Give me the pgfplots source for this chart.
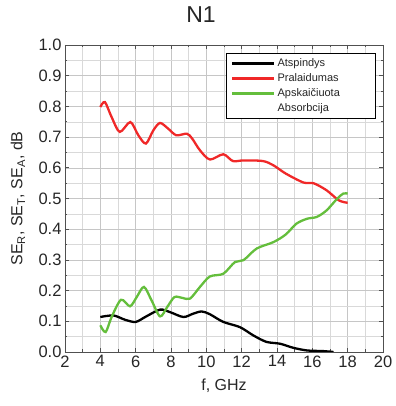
\documentclass[border=0pt]{standalone}
\usepackage{fontspec}
\setmainfont{Liberation Sans}
\usepackage{pgfplots}
\pgfplotsset{compat=1.18}
\definecolor{cred}{RGB}{240,40,40}
\definecolor{cgreen}{RGB}{100,190,60}
\definecolor{frame}{RGB}{80,80,80}
\newcommand{\legw}[1]{\makebox[92pt][l]{#1}}
\begin{document}
\begin{tikzpicture}
\path[draw=none] (-65pt,-54pt) rectangle (329pt,352pt);
\begin{axis}[
  at={(0pt,0pt)}, anchor=south west,
  scale only axis, width=318pt, height=307pt,
  xmin=2, xmax=20, ymin=0, ymax=1,
  xtick={2,4,...,20}, ytick={0,0.1,...,1.0},
  minor x tick num=1, minor y tick num=1,
  grid=both,
  major grid style={gray!45, line width=0.5pt},
  minor grid style={gray!30, line width=0.4pt},
  axis line style={frame, line width=0.8pt},
  tick style={frame, line width=0.6pt},
  tick align=inside, major tick length=4pt, minor tick length=2.5pt,
  /pgf/number format/assume math mode=true,
  yticklabel style={/pgf/number format/.cd, fixed, fixed zerofill, precision=1},
  ticklabel style={font=\fontsize{16.5}{18}\selectfont, text=black!85},
  xlabel={f, GHz}, ylabel={SE\textsubscript{R}, SE\textsubscript{T}, SE\textsubscript{A}, dB},
  label style={font=\fontsize{16}{18}\selectfont, text=black!85},
  xlabel style={at={([yshift=-34pt]axis description cs:0.5,0)}, anchor=center},
  ylabel style={at={([xshift=-47pt]axis description cs:0,0.5)}, anchor=center},
  title={N1}, title style={font=\fontsize{23}{25}\selectfont, text=black!85, at={([xshift=-23pt,yshift=24pt]axis description cs:0.5,1)}, anchor=center},
  legend style={at={(0.978,0.974)}, anchor=north east, font=\fontsize{11}{13}\selectfont,
    draw=black, line width=0.9pt, inner xsep=4pt, inner ysep=3pt, row sep=1.6pt,
    legend cell align=left, text=black!85},
  legend image post style={line width=2.8pt},
  legend image code/.code={\draw[#1] (0pt,0pt) -- (42pt,0pt);},
]
\addplot[black, line width=2.3pt, smooth, tension=0.5] coordinates {
(4.0,0.114)(4.74,0.119)(5.4,0.105)(6.0,0.098)(6.6,0.116)(7.38,0.138)(7.94,0.130)
(8.7,0.114)(9.26,0.125)(9.74,0.132)(10.2,0.123)(10.96,0.098)(11.9,0.081)(12.66,0.054)
(13.4,0.033)(14.17,0.027)(14.9,0.014)(15.7,0.005)(16.6,0.003)(17.2,0.0)};
\addlegendentry{\legw{Atspindys}}
\addplot[cred, line width=2.3pt, smooth, tension=0.5] coordinates {
(4.0,0.798)(4.26,0.814)(4.64,0.765)(5.1,0.717)(5.7,0.749)(6.15,0.706)(6.58,0.679)
(7.0,0.722)(7.38,0.746)(7.85,0.727)(8.3,0.706)(8.9,0.711)(9.2,0.695)(9.64,0.657)
(10.2,0.627)(10.96,0.644)(11.5,0.622)(12.1,0.624)(13.2,0.622)(13.8,0.608)(14.5,0.581)
(15.5,0.552)(16.06,0.550)(16.8,0.527)(17.5,0.494)(18.0,0.486)};
\addlegendentry{\legw{Pralaidumas}}
\addplot[cgreen, line width=2.3pt, smooth, tension=0.5] coordinates {
(4.0,0.087)(4.3,0.065)(4.64,0.114)(5.17,0.170)(5.68,0.149)(6.06,0.179)(6.47,0.212)
(6.9,0.168)(7.38,0.116)(7.79,0.147)(8.2,0.179)(8.66,0.176)(9.08,0.174)(9.64,0.212)
(10.2,0.246)(10.96,0.255)(11.62,0.293)(12.1,0.299)(12.85,0.337)(13.8,0.358)(14.5,0.383)
(15.1,0.418)(15.7,0.434)(16.25,0.440)(16.8,0.461)(17.4,0.499)(17.75,0.516)(18.0,0.516)};
\addlegendentry{\legw{Apskaičiuota}}
\addlegendimage{empty legend}
\addlegendentry{\legw{Absorbcija}}
\end{axis}
\end{tikzpicture}
\end{document}
